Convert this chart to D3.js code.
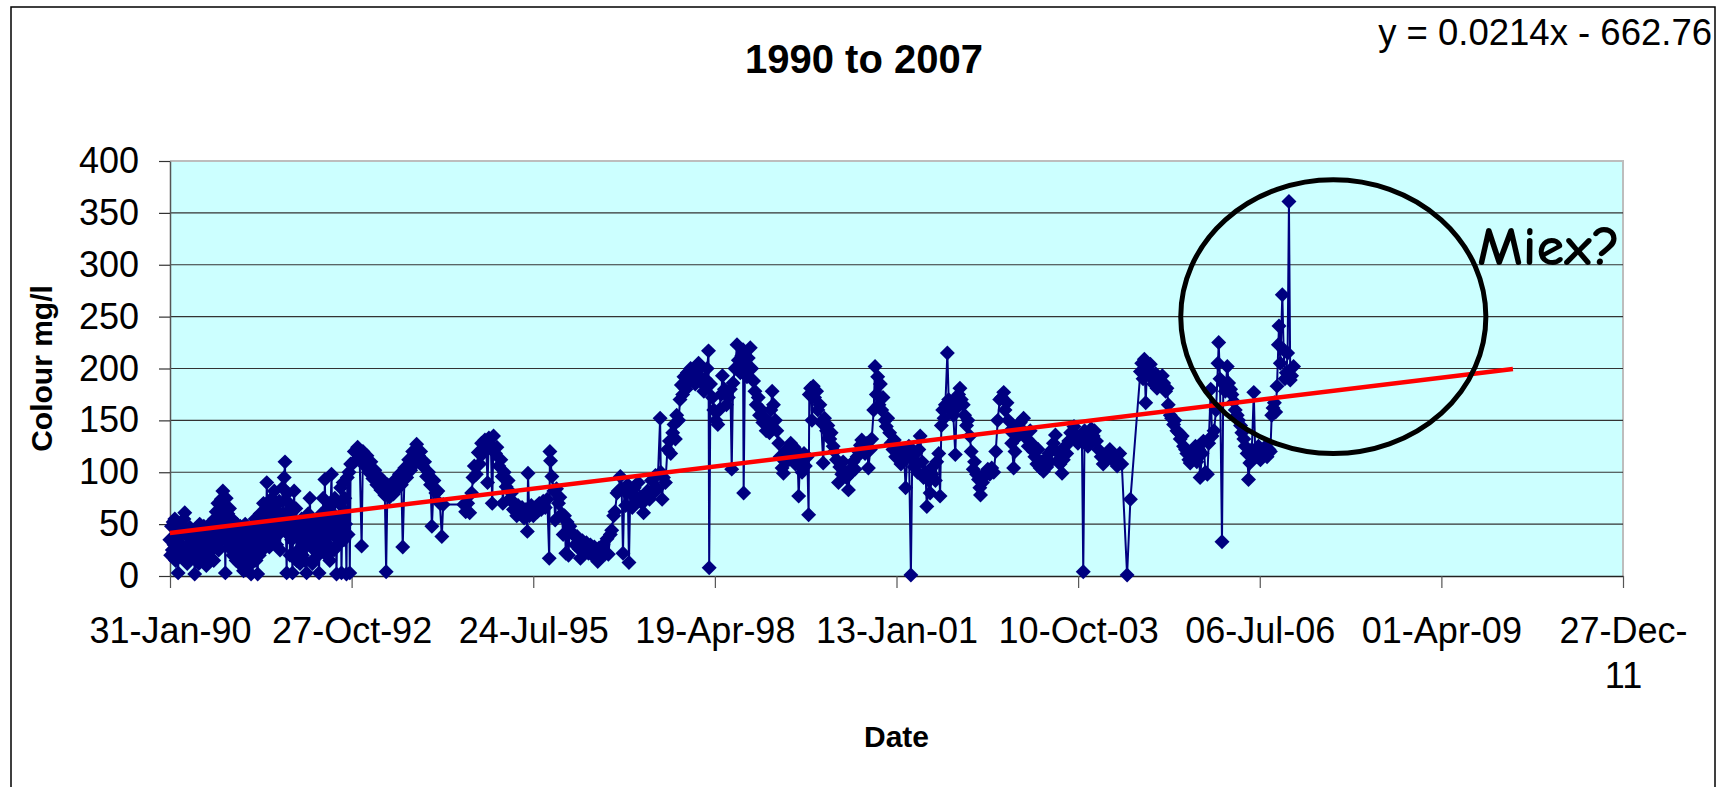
<!DOCTYPE html>
<html>
<head>
<meta charset="utf-8">
<script src="https://cdn.jsdelivr.net/npm/d3@7"></script>
<style>
  body { margin: 0; background: #fff; }
  svg { display: block; }
</style>
</head>
<body>
<div class="svg-container"></div>
<script>
const width = 1718
const height = 787

// axis ticks
const dateTickLabels = ['31-Jan-90', '27-Oct-92', '24-Jul-95', '19-Apr-98', '13-Jan-01', '10-Oct-03', '06-Jul-06', '01-Apr-09', '27-Dec-11']
const valueTicks = [0, 50, 100, 150, 200, 250, 300, 350, 400]

// colour readings: [decimal year, colour mg/l]
const colourReadings = [
  [1990.080,35],[1990.092,20],[1990.105,48],[1990.117,25],[1990.130,52],[1990.142,30],[1990.155,55],[1990.167,15],[1990.180,40],[1990.192,28],[1990.205,3],[1990.217,45],[1990.230,22],[1990.242,50],[1990.255,30],[1990.267,18],[1990.280,42],[1990.292,55],[1990.305,61],[1990.317,28],[1990.330,45],[1990.342,12],[1990.355,38],[1990.367,25],[1990.380,47],[1990.392,20],[1990.405,40],[1990.417,30],[1990.430,18],[1990.442,35],[1990.455,2],[1990.467,28],[1990.480,45],[1990.492,20],
  [1990.505,38],[1990.517,12],[1990.530,50],[1990.542,25],[1990.555,42],[1990.567,15],[1990.580,35],[1990.592,48],[1990.605,20],[1990.617,40],[1990.630,10],[1990.642,38],[1990.655,45],[1990.667,22],[1990.680,50],[1990.692,18],[1990.705,35],[1990.717,28],[1990.730,47],[1990.742,15],[1990.755,55],[1990.767,30],[1990.780,62],[1990.792,40],[1990.805,70],[1990.817,25],[1990.830,58],[1990.842,45],[1990.855,74],[1990.867,35],[1990.880,82],[1990.892,50],[1990.905,66],[1990.917,3],[1990.930,75],[1990.942,40],[1990.955,60],[1990.967,28],[1990.980,65],[1990.992,45],
  [1991.005,35],[1991.017,55],[1991.030,20],[1991.042,45],[1991.055,25],[1991.067,40],[1991.080,15],[1991.092,50],[1991.105,22],[1991.117,38],[1991.130,12],[1991.142,48],[1991.155,30],[1991.167,18],[1991.180,42],[1991.192,5],[1991.205,35],[1991.217,50],[1991.230,15],[1991.242,40],[1991.255,25],[1991.267,45],[1991.280,10],[1991.292,35],[1991.305,2],[1991.317,48],[1991.330,20],[1991.342,40],[1991.355,28],[1991.367,55],[1991.380,15],[1991.392,35],[1991.405,2],[1991.417,45],[1991.430,20],[1991.442,60],[1991.455,35],[1991.467,50],[1991.480,25],[1991.492,70],
  [1991.505,40],[1991.517,55],[1991.530,30],[1991.542,90],[1991.555,45],[1991.567,65],[1991.580,28],[1991.592,60],[1991.605,40],[1991.617,75],[1991.630,35],[1991.642,55],[1991.655,82],[1991.667,45],[1991.680,68],[1991.692,30],[1991.705,62],[1991.717,40],[1991.730,72],[1991.742,25],[1991.755,55],[1991.767,45],[1991.780,85],[1991.792,60],[1991.805,95],[1991.817,110],[1991.830,50],[1991.842,3],[1991.855,80],[1991.867,40],[1991.880,70],[1991.892,20],[1991.905,60],[1991.917,35],[1991.930,3],[1991.942,55],[1991.955,82],[1991.967,40],[1991.980,65],[1991.992,15],
  [1992.005,50],[1992.017,25],[1992.030,45],[1992.042,12],[1992.055,40],[1992.067,55],[1992.080,20],[1992.092,35],[1992.105,48],[1992.117,15],[1992.130,38],[1992.142,3],[1992.155,50],[1992.167,60],[1992.180,30],[1992.192,75],[1992.205,40],[1992.217,55],[1992.230,12],[1992.242,45],[1992.255,25],[1992.267,50],[1992.280,18],[1992.292,40],[1992.305,55],[1992.317,20],[1992.330,3],[1992.342,45],[1992.355,25],[1992.367,60],[1992.380,35],[1992.392,75],[1992.405,40],[1992.417,93],[1992.430,50],[1992.442,20],[1992.455,65],[1992.467,30],[1992.480,55],[1992.492,15],
  [1992.505,70],[1992.517,98],[1992.530,40],[1992.542,60],[1992.555,25],[1992.567,75],[1992.580,45],[1992.592,2],[1992.605,55],[1992.617,30],[1992.630,70],[1992.642,40],[1992.655,85],[1992.667,3],[1992.680,60],[1992.692,90],[1992.705,35],[1992.717,75],[1992.730,50],[1992.742,2],[1992.755,95],[1992.767,40],[1992.780,100],[1992.792,3],[1992.805,108],
  [1992.83,108],[1992.86,120],[1992.89,112],[1992.91,124],[1992.94,114],[1992.97,29],[1992.99,120],[1993.02,106],[1993.05,116],[1993.08,100],[1993.11,110],[1993.14,94],[1993.17,102],[1993.20,88],[1993.23,96],[1993.26,83],[1993.29,92],[1993.32,78],[1993.34,4],[1993.36,88],[1993.39,76],[1993.42,88],[1993.45,79],[1993.48,93],[1993.51,84],[1993.54,98],[1993.57,88],[1993.59,28],[1993.62,104],[1993.65,95],[1993.68,112],[1993.71,102],[1993.74,120],[1993.77,108],[1993.80,127],[1993.83,116],[1993.86,120],[1993.89,106],[1993.92,110],[1993.95,96],[1993.98,100],[1994.01,88],[1994.03,48],[1994.06,92],[1994.09,80],[1994.12,82],[1994.15,70],[1994.18,38],[1994.20,69],
  [1994.51,69],[1994.54,62],[1994.57,70],[1994.60,61],[1994.63,80],[1994.65,95],[1994.67,106],[1994.70,98],[1994.73,119],[1994.75,108],[1994.78,128],[1994.80,118],[1994.83,131],[1994.85,122],[1994.87,90],[1994.89,133],[1994.92,124],[1994.94,70],[1994.96,135],[1994.99,118],[1995.01,124],[1995.04,106],[1995.07,112],[1995.09,96],[1995.10,70],[1995.12,100],[1995.15,86],[1995.18,92],[1995.20,74],[1995.23,80],[1995.26,64],[1995.28,70],[1995.31,58],
  [1995.33,68],[1995.36,60],[1995.39,66],[1995.42,56],[1995.45,64],[1995.47,43],[1995.48,99],[1995.50,58],[1995.53,68],[1995.56,58],[1995.59,66],[1995.62,62],[1995.65,70],[1995.68,64],[1995.71,72],[1995.74,66],[1995.77,74],[1995.80,17],[1995.81,120],[1995.82,111],[1995.84,96],[1995.87,82],[1995.89,54],[1995.91,84],[1995.94,70],[1995.96,76],[1995.99,60],[1996.01,40],[1996.03,58],[1996.05,22],[1996.07,52],[1996.09,20],[1996.11,48],[1996.14,42],
  [1996.16,40],[1996.19,30],[1996.22,38],[1996.25,26],[1996.27,17],[1996.30,34],[1996.33,24],[1996.36,32],[1996.39,22],[1996.42,30],[1996.45,20],[1996.48,28],[1996.50,18],[1996.53,14],[1996.55,27],[1996.58,19],[1996.61,30],[1996.64,21],[1996.67,36],[1996.69,21],[1996.72,40],[1996.74,44],[1996.77,58],[1996.79,62],[1996.82,80],[1996.84,82],[1996.87,96],[1996.89,84],[1996.91,22],[1996.93,82],[1996.95,68],[1996.98,88],[1997.00,13],[1997.02,80],[1997.05,66],[1997.08,85],[1997.11,72],[1997.14,90],[1997.17,76],[1997.20,70],[1997.22,61],[1997.25,76],[1997.28,82],[1997.31,74],[1997.34,92],[1997.37,80],[1997.40,97],[1997.43,84],[1997.47,152],[1997.48,100],[1997.50,74],[1997.52,95],[1997.55,90],
  [1997.58,122],[1997.61,130],[1997.63,118],[1997.66,138],[1997.68,146],[1997.70,132],[1997.72,155],[1997.75,150],[1997.77,170],[1997.79,184],[1997.81,175],[1997.83,192],[1997.86,180],[1997.88,196],[1997.90,186],[1997.93,200],[1997.95,190],[1997.98,196],[1998.00,185],[1998.03,198],[1998.05,205],[1998.08,192],[1998.10,186],[1998.13,178],[1998.15,190],[1998.18,200],[1998.20,217],[1998.21,8],[1998.23,185],[1998.26,172],[1998.28,160],[1998.31,150],[1998.34,146],[1998.36,160],[1998.39,175],[1998.41,193],[1998.44,180],[1998.47,165],[1998.50,172],[1998.53,180],[1998.55,103],[1998.57,186],[1998.60,200],[1998.63,223],[1998.65,208],[1998.68,196],[1998.70,212],[1998.72,218],[1998.73,80],[1998.75,205],[1998.78,192],[1998.80,210],[1998.83,220],[1998.85,200],
  [1998.88,188],[1998.90,178],[1998.92,165],[1998.95,172],[1998.97,155],[1999.00,160],[1999.02,148],[1999.05,152],[1999.07,140],[1999.10,145],[1999.12,138],[1999.14,160],[1999.16,178],[1999.18,165],[1999.21,150],[1999.23,140],[1999.26,128],
  [1999.28,115],[1999.31,104],[1999.33,99],[1999.36,110],[1999.38,122],[1999.41,112],[1999.44,128],[1999.46,118],[1999.49,124],[1999.51,108],[1999.54,120],[1999.56,77],[1999.58,112],[1999.61,100],[1999.64,118],[1999.66,106],[1999.69,115],[1999.71,59],
  [1999.72,175],[1999.74,181],[1999.76,150],[1999.78,183],[1999.80,172],[1999.83,178],[1999.85,160],[1999.88,165],
  [1999.90,148],[1999.93,109],[1999.95,152],[1999.98,140],[2000.00,145],[2000.03,132],[2000.05,138],[2000.08,125],[2000.10,120],[2000.13,112],[2000.16,90],[2000.18,105],[2000.21,98],[2000.23,110],[2000.26,100],[2000.28,95],[2000.31,83],
  [2000.33,98],[2000.36,104],[2000.38,110],[2000.41,103],[2000.44,115],[2000.46,120],[2000.49,126],[2000.51,131],[2000.54,124],[2000.56,118],[2000.59,128],[2000.61,104],[2000.64,122],[2000.66,132],
  [2000.69,160],[2000.71,202],[2000.73,175],[2000.75,192],[2000.77,165],[2000.79,185],[2000.81,160],[2000.83,172],[2000.86,150],[2000.88,144],[2000.90,152],
  [2000.93,138],[2000.95,128],[2000.98,122],[2001.00,131],[2001.02,115],[2001.05,125],[2001.07,118],[2001.10,108],[2001.12,120],[2001.15,112],[2001.17,85],[2001.20,118],[2001.22,125],[2001.25,1],[2001.27,112],
  [2001.30,105],[2001.32,118],[2001.35,100],[2001.37,122],[2001.39,135],[2001.42,110],[2001.44,95],[2001.47,100],[2001.49,67],[2001.52,92],[2001.54,80],[2001.57,98],[2001.59,106],[2001.62,92],[2001.64,110],[2001.67,118],[2001.69,77],
  [2001.71,145],[2001.73,160],[2001.75,152],[2001.77,165],[2001.80,215],[2001.82,170],
  [2001.84,160],[2001.87,168],[2001.89,155],[2001.92,117],[2001.94,162],[2001.97,175],[2001.99,181],[2002.01,170],[2002.04,165],[2002.06,155],[2002.09,145],[2002.11,150],[2002.14,135],
  [2002.16,120],[2002.19,103],[2002.21,110],[2002.24,98],[2002.27,93],[2002.29,85],[2002.30,78],[2002.33,90],[2002.36,96],[2002.38,100],[2002.41,103],[2002.44,98],[2002.47,104],[2002.50,100],
  [2002.53,120],[2002.56,150],[2002.59,170],[2002.62,172],[2002.65,177],[2002.67,160],[2002.70,167],[2002.72,150],
  [2002.75,140],[2002.77,128],[2002.80,104],[2002.82,120],[2002.85,145],[2002.87,135],[2002.90,148],[2002.92,140],[2002.95,152],[2002.97,138],[2003.00,132],[2003.02,125],[2003.05,140],[2003.07,128],[2003.10,120],
  [2003.12,115],[2003.15,108],[2003.17,122],[2003.20,104],[2003.22,110],[2003.25,101],[2003.27,112],[2003.30,105],[2003.33,118],[2003.35,110],[2003.38,122],[2003.40,128],[2003.43,136],[2003.45,120],[2003.48,112],[2003.50,108],[2003.53,99],[2003.55,112],[2003.58,125],[2003.60,118],[2003.63,130],
  [2003.66,138],[2003.68,132],[2003.71,144],[2003.74,136],[2003.77,128],[2003.80,135],[2003.83,130],[2003.85,4],[2003.87,140],[2003.90,132],[2003.92,125],[2003.95,138],[2003.97,142],[2004.00,135],[2004.02,140],[2004.05,130],[2004.08,122],
  [2004.12,115],[2004.15,108],[2004.18,112],[2004.22,118],[2004.25,122],[2004.28,115],[2004.32,110],[2004.36,106],[2004.40,118],[2004.43,108],
  [2004.51,1],[2004.56,74],
  [2004.71,197],[2004.73,205],[2004.75,190],[2004.77,209],[2004.79,167],[2004.81,200],[2004.84,195],[2004.86,204],[2004.89,190],[2004.91,185],[2004.94,195],[2004.96,181],[2004.99,188],[2005.01,185],[2005.04,193],[2005.06,186],[2005.09,178],[2005.11,181],
  [2005.13,165],[2005.16,155],[2005.18,152],[2005.21,146],[2005.23,150],[2005.26,140],[2005.29,138],[2005.31,132],[2005.34,135],[2005.36,125],[2005.39,122],
  [2005.41,118],[2005.44,112],[2005.46,109],[2005.49,120],[2005.51,115],[2005.54,125],[2005.56,110],[2005.59,122],[2005.61,95],[2005.64,118],[2005.66,130],[2005.69,100],[2005.72,98],[2005.74,128],[2005.77,180],[2005.79,135],
  [2005.82,140],[2005.85,160],[2005.88,205],[2005.89,225],[2005.91,190],[2005.94,33],[2005.96,185],[2005.99,178],[2006.02,202],[2006.04,186],[2006.07,180],[2006.09,175],[2006.12,168],[2006.14,160],[2006.17,155],[2006.19,150],[2006.22,145],[2006.24,138],[2006.27,132],
  [2006.29,125],[2006.32,118],[2006.34,93],[2006.36,109],[2006.39,122],[2006.42,177],[2006.44,120],[2006.47,115],[2006.49,125],[2006.52,112],[2006.54,120],[2006.57,118],[2006.60,125],[2006.62,115],[2006.65,122],[2006.67,120],
  [2006.69,155],[2006.71,162],[2006.73,167],[2006.75,158],
  [2006.77,183],[2006.79,223],[2006.80,241],[2006.82,205],[2006.85,271],[2006.87,218],[2006.89,190],[2006.91,196],[2006.93,215],[2006.95,361],[2006.97,189],[2006.99,193],[2007.02,202]
]

// linear trendline as printed on the chart (x = Excel date serial)
const trendSlope = 0.0214
const trendIntercept = -662.76
const trendEndLabel = '30-Apr-10'

// annotation
const ringCentreLabel = '15-Aug-07'
const ringCentreValue = 250
const ringHalfWidthDays = 840
const ringHalfHeightValue = 132
const noteLabel = '15-Oct-09'
const noteValue = 300

const margin = { left: 170, right: 95, top: 161, bottom: 211 }
const parseTick = d3.utcParse('%d-%b-%y')

function yearToDate(y) {
  const yr = Math.floor(y)
  const start = Date.UTC(yr, 0, 1)
  const end = Date.UTC(yr + 1, 0, 1)
  return new Date(start + (y - yr) * (end - start))
}

function excelSerial(date) {
  return (date - Date.UTC(1899, 11, 30)) / 864e5
}

const tickDates = dateTickLabels.map(parseTick)

const xScale = d3
  .scaleUtc()
  .domain([tickDates[0], tickDates[tickDates.length - 1]])
  .range([margin.left, width - margin.right])

const yScale = d3
  .scaleLinear()
  .domain([0, 400])
  .range([height - margin.bottom, margin.top])

const svg = d3
  .select('.svg-container')
  .append('svg')
  .attr('width', width)
  .attr('height', height)
  .style('font-family', '"Liberation Sans", Arial, sans-serif')

// chart border
svg
  .append('rect')
  .attr('x', 11)
  .attr('y', 7)
  .attr('width', 1704)
  .attr('height', 800)
  .attr('fill', '#fff')
  .attr('stroke', '#000')
  .attr('stroke-width', 1.5)

const x0 = xScale.range()[0]
const x1 = xScale.range()[1]
const yTop = yScale(400)
const yBottom = yScale(0)

// plot area
svg
  .append('rect')
  .attr('x', x0)
  .attr('y', yTop)
  .attr('width', x1 - x0)
  .attr('height', yBottom - yTop)
  .attr('fill', '#ccffff')

svg
  .append('path')
  .attr('d', `M${x0},${yTop}H${x1}V${yBottom}`)
  .attr('fill', 'none')
  .attr('stroke', '#bdbdbd')
  .attr('stroke-width', 2)

svg
  .append('g')
  .selectAll('line')
  .data(valueTicks.filter((v) => v > 0 && v < 400))
  .enter()
  .append('line')
  .attr('x1', x0)
  .attr('x2', x1)
  .attr('y1', (d) => yScale(d))
  .attr('y2', (d) => yScale(d))
  .attr('stroke', '#333')
  .attr('stroke-width', 1.2)

// axes
const yAxis = d3.axisLeft(yScale).tickValues(valueTicks).tickSize(11).tickSizeOuter(0).tickPadding(20)
const gy = svg.append('g').attr('transform', `translate(${x0},0)`).call(yAxis)
gy.select('.domain').attr('stroke', '#555').attr('stroke-width', 1.5)
gy.selectAll('.tick line').attr('stroke', '#333').attr('stroke-width', 1.2)
gy.selectAll('text').attr('font-size', 36).attr('fill', '#000').attr('font-family', '"Liberation Sans", Arial, sans-serif')

const xAxis = d3.axisBottom(xScale).tickValues(tickDates).tickSize(12).tickSizeOuter(0).tickFormat((d, i) => dateTickLabels[i])
const gx = svg.append('g').attr('transform', `translate(0,${yBottom})`).call(xAxis)
gx.select('.domain').attr('stroke', '#222').attr('stroke-width', 1.5)
gx.selectAll('.tick line').attr('stroke', '#555').attr('stroke-width', 1.2)
gx.selectAll('text')
  .attr('font-size', 36)
  .attr('fill', '#000')
  .attr('font-family', '"Liberation Sans", Arial, sans-serif')
  .attr('y', 67)
  .attr('dy', 0)
  .each(function (d, i) {
    if (i !== dateTickLabels.length - 1) return
    const label = dateTickLabels[i]
    const t = d3.select(this).text(null)
    t.append('tspan').attr('x', 0).text(label.slice(0, 7))
    t.append('tspan').attr('x', 0).attr('dy', 45).text(label.slice(7))
  })

// data line + markers
const points = colourReadings.map(([yr, v]) => ({ date: yearToDate(yr), value: v }))

svg
  .append('path')
  .datum(points)
  .attr('fill', 'none')
  .attr('stroke', '#000080')
  .attr('stroke-width', 2)
  .attr('d', d3.line().x((d) => xScale(d.date)).y((d) => yScale(d.value)))

const diamond = d3.symbol(d3.symbolSquare, 112)
svg
  .append('g')
  .selectAll('path')
  .data(points)
  .enter()
  .append('path')
  .attr('d', diamond)
  .attr('transform', (d) => `translate(${xScale(d.date)},${yScale(d.value)}) rotate(45)`)
  .attr('fill', '#000080')

// trendline
const trendStart = points[0].date
const trendEnd = parseTick(trendEndLabel)
const trend = [trendStart, trendEnd].map((d) => ({ date: d, value: trendSlope * excelSerial(d) + trendIntercept }))
svg
  .append('path')
  .datum(trend)
  .attr('fill', 'none')
  .attr('stroke', '#ff0000')
  .attr('stroke-width', 4.5)
  .attr('d', d3.line().x((d) => xScale(d.date)).y((d) => yScale(d.value)))

// annotation ring and note
const ringCentre = parseTick(ringCentreLabel)
const cx = xScale(ringCentre)
const cy = yScale(ringCentreValue)
const rx = xScale(d3.utcDay.offset(ringCentre, ringHalfWidthDays)) - cx
const ry = yScale(ringCentreValue - ringHalfHeightValue) - cy
svg
  .append('ellipse')
  .attr('cx', cx)
  .attr('cy', cy)
  .attr('rx', rx)
  .attr('ry', ry)
  .attr('fill', 'none')
  .attr('stroke', '#000')
  .attr('stroke-width', 5)

svg
  .append('text')
  .attr('x', xScale(parseTick(noteLabel)))
  .attr('y', yScale(noteValue))
  .attr('font-family', '"Comic Sans MS", "Comic Neue", "DejaVu Sans", sans-serif')
  .attr('font-size', 54)
  .attr('font-weight', 'bold')
  .attr('textLength', 143)
  .attr('lengthAdjust', 'spacingAndGlyphs')
  .text('Miex?')

// titles
svg
  .append('text')
  .attr('x', 864)
  .attr('y', 73)
  .attr('text-anchor', 'middle')
  .attr('font-size', 40)
  .attr('font-weight', 'bold')
  .text('1990 to 2007')

svg
  .append('text')
  .attr('x', 1712)
  .attr('y', 45)
  .attr('text-anchor', 'end')
  .attr('font-size', 36.5)
  .text(`y = ${trendSlope}x - ${-trendIntercept}`)

svg
  .append('text')
  .attr('x', (x0 + x1) / 2)
  .attr('y', 747)
  .attr('text-anchor', 'middle')
  .attr('font-size', 30)
  .attr('font-weight', 'bold')
  .text('Date')

svg
  .append('text')
  .attr('transform', `translate(52,${(yTop + yBottom) / 2}) rotate(-90)`)
  .attr('text-anchor', 'middle')
  .attr('font-size', 30)
  .attr('font-weight', 'bold')
  .text('Colour mg/l')
</script>
</body>
</html>
